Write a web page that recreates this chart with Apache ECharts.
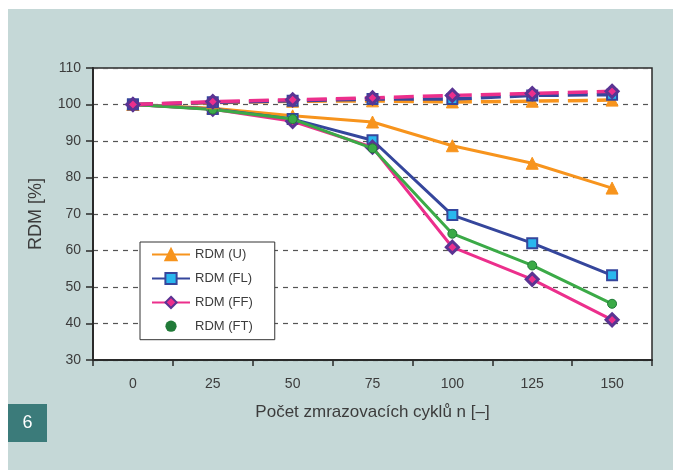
<!DOCTYPE html>
<html>
<head>
<meta charset="utf-8">
<script src="https://cdn.jsdelivr.net/npm/echarts@6/dist/echarts.min.js"></script>
<style>
  html, body { margin: 0; padding: 0; background: #ffffff; }
  #chart { width: 673px; height: 470px; }
</style>
</head>
<body>
<div id="chart"></div>
<script>
// Freeze–thaw cycles (x axis categories)
const cycles = ['0', '25', '50', '75', '100', '125', '150'];
const yTicks = { min: 30, max: 110, step: 10 };

// Relative dynamic modulus [%] – solid lines (exposed specimens)
const rdmU  = [100, 99.0, 96.9, 95.2, 88.7, 83.9, 77.1];
const rdmFL = [100, 98.8, 96.0, 90.2, 69.7, 62.0, 53.2];
const rdmFF = [100, 98.7, 95.4, 88.3, 60.9, 52.1, 41.0];
const rdmFT = [100, 98.6, 96.0, 88.0, 64.6, 55.9, 45.4];

// Reference specimens – dashed lines
const refU  = [100, 100.5, 100.9, 101.0, 100.7, 100.9, 101.2];
const refFL = [100, 100.6, 101.0, 101.5, 101.5, 102.5, 102.7];
const refFF = [100, 100.8, 101.3, 101.8, 102.5, 103.0, 103.6];

const C = {
  orange: '#F7941D', orangeIn: '#FCE23A',
  blue: '#35469C', cyan: '#29B7EE',
  pink: '#EC2F8C', purple: '#5A3493',
  green: '#3BAA47', greenDark: '#217A38',
  text: '#3c3c3c', panel: '#C5D8D7', badge: '#3B7B7A'
};

const FONT = 'Liberation Sans, Arial, sans-serif';

const styles = {
  U:  { color: C.orange, symbol: 'triangle', size: 12, item: { color: C.orange, borderColor: C.orange, borderWidth: 1 } },
  FL: { color: C.blue, symbol: 'rect', size: 10, item: { color: C.cyan, borderColor: C.blue, borderWidth: 2 } },
  FF: { color: C.pink, symbol: 'diamond', size: 12, item: { color: C.pink, borderColor: C.purple, borderWidth: 3 } },
  FT: { color: C.green, symbol: 'circle', size: 9, item: { color: C.green, borderColor: C.greenDark, borderWidth: 1 } }
};

function lineSeries(name, data, st, dashed, z) {
  return {
    name: name,
    type: 'line',
    data: data,
    symbol: st.symbol,
    symbolSize: st.size,
    showAllSymbol: true,
    z: z,
    lineStyle: dashed
      ? { color: st.color, width: 3.5, type: [20, 9] }
      : { color: st.color, width: 3 },
    itemStyle: st.item,
    emphasis: { disabled: true },
    animation: false
  };
}

const chart = echarts.init(document.getElementById('chart'), null, { renderer: 'canvas' });

chart.setOption({
  backgroundColor: '#ffffff',
  textStyle: { fontFamily: FONT, color: C.text },
  graphic: [
    { type: 'rect', z: -10, shape: { x: 8, y: 9, width: 665, height: 461 }, style: { fill: C.panel } },
    { type: 'rect', z: -9, shape: { x: 93, y: 68, width: 559, height: 292 }, style: { fill: '#ffffff' } },
    { type: 'rect', z: 1, shape: { x: 8, y: 404, width: 39, height: 38 }, style: { fill: C.badge } },
    { type: 'text', z: 2, x: 27.5, y: 423, style: { text: '6', fill: '#ffffff', font: '18px ' + FONT, align: 'center', verticalAlign: 'middle' } }
  ],
  grid: { left: 93, right: 21, top: 68, bottom: 110, show: true, borderColor: '#2a2a2a', borderWidth: 1.5, backgroundColor: 'transparent' },
  legend: {
    data: [
      { name: 'RDM (U)' },
      { name: 'RDM (FL)' },
      { name: 'RDM (FF)' },
      { name: 'RDM (FT)', lineStyle: { opacity: 0 }, itemStyle: { color: C.greenDark, borderWidth: 0 } }
    ],
    orient: 'vertical',
    left: 140, top: 242,
    padding: [6, 22, 7, 11],
    itemWidth: 38, itemHeight: 14, itemGap: 10.7,
    backgroundColor: '#ffffff',
    borderColor: '#333333', borderWidth: 1,
    selectedMode: false,
    textStyle: { fontSize: 13, color: C.text, fontFamily: FONT }
  },
  xAxis: {
    type: 'category',
    data: cycles,
    boundaryGap: true,
    name: 'Počet zmrazovacích cyklů n [–]',
    nameLocation: 'middle',
    nameGap: 44,
    nameTextStyle: { fontSize: 17, color: C.text },
    axisLine: { lineStyle: { color: '#2a2a2a', width: 2 } },
    axisTick: { show: true, length: 6, inside: false, lineStyle: { color: '#2a2a2a', width: 1.5 } },
    axisLabel: { fontSize: 14, color: C.text, margin: 17 },
    splitLine: { show: false }
  },
  yAxis: {
    type: 'value',
    min: yTicks.min, max: yTicks.max, interval: yTicks.step,
    name: 'RDM [%]',
    nameLocation: 'middle',
    nameGap: 48,
    nameTextStyle: { fontSize: 18, color: C.text },
    axisLine: { show: true, lineStyle: { color: '#2a2a2a', width: 2 } },
    axisTick: { show: true, length: 7, lineStyle: { color: '#2a2a2a', width: 1.5 } },
    axisLabel: { fontSize: 14, color: C.text, margin: 12 },
    splitLine: { show: true, lineStyle: { color: '#555555', width: 1.2, type: [5, 5] } }
  },
  series: [
    lineSeries('RDM (U)',  rdmU,  styles.U,  false, 2),
    lineSeries('RDM (FL)', rdmFL, styles.FL, false, 3),
    lineSeries('RDM (FF)', rdmFF, styles.FF, false, 4),
    lineSeries('RDM (FT)', rdmFT, styles.FT, false, 5),
    lineSeries('ref U',  refU,  styles.U,  true, 6),
    lineSeries('ref FL', refFL, styles.FL, true, 7),
    lineSeries('ref FF', refFF, styles.FF, true, 8)
  ]
});
</script>
</body>
</html>
